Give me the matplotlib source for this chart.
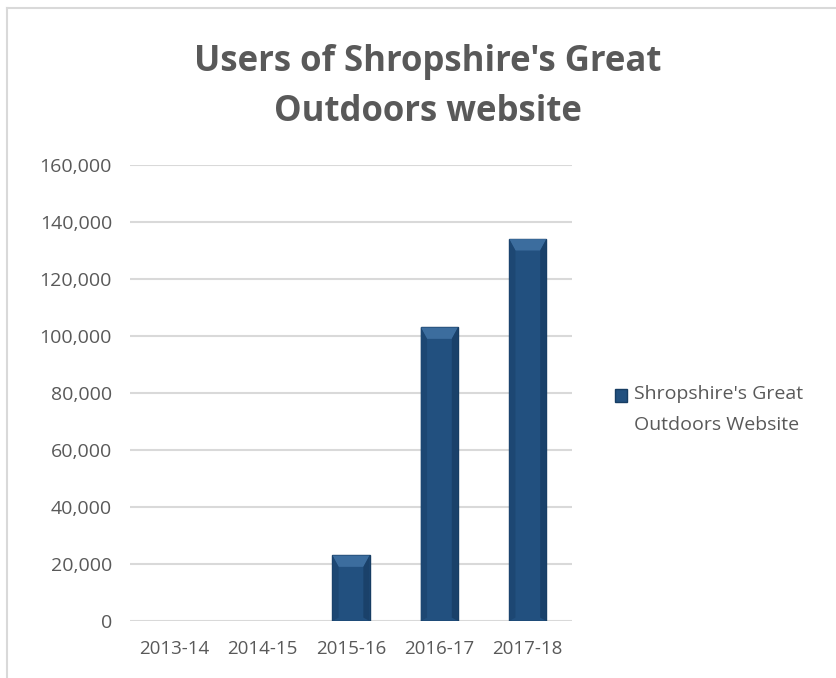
import matplotlib
matplotlib.use("Agg")
import matplotlib.pyplot as plt
from matplotlib.patches import Polygon, Rectangle
from matplotlib.lines import Line2D
from matplotlib.ticker import FuncFormatter

# data
years = ["2013-14", "2014-15", "2015-16", "2016-17", "2017-18"]
users = [0, 0, 23000, 103000, 134000]
series_name = "Shropshire's Great\nOutdoors Website"
title = "Users of Shropshire's Great\nOutdoors website"

plt.rcParams['font.family'] = ['Open Sans', 'DejaVu Sans']
grey = "#595959"
bar_col = "#22507f"

W, H = 836, 678
fig = plt.figure(figsize=(W / 100, H / 100), dpi=100)
ax = fig.add_axes([130 / W, 57 / H, 442 / W, 456 / H])

x = list(range(len(years)))
bw = 0.42
bars = ax.bar(x, users, width=bw, color=bar_col, edgecolor="#173d63",
              linewidth=1.0, zorder=3)
for b, v in zip(bars, users):
    if v <= 0:
        b.set_linewidth(0)

# simple bevel on top of each bar
bev_y = 4000
bev_x = 0.07
for xi, v in zip(x, users):
    if v <= 0:
        continue
    l, r = xi - bw / 2, xi + bw / 2
    top = Polygon([(l, v), (r, v), (r - bev_x, v - bev_y), (l + bev_x, v - bev_y)],
                  closed=True, facecolor="#3c6d9e", edgecolor="none", zorder=4)
    ax.add_patch(top)
    left = Polygon([(l, v), (l + bev_x, v - bev_y), (l + bev_x, bev_y * 0.3), (l, 0)],
                   closed=True, facecolor="#1d4773", edgecolor="none", zorder=4)
    ax.add_patch(left)
    right = Polygon([(r, v), (r - bev_x, v - bev_y), (r - bev_x, bev_y * 0.3), (r, 0)],
                    closed=True, facecolor="#1a416a", edgecolor="none", zorder=4)
    ax.add_patch(right)

ax.set_ylim(0, 160000)
ax.set_xlim(-0.5, len(years) - 0.5)
ax.set_yticks(range(0, 160001, 20000))
ax.yaxis.set_major_formatter(FuncFormatter(lambda v, p: f"{int(v):,}"))
ax.set_xticks(x)
ax.set_xticklabels(years)
ax.grid(axis="y", color="#d9d9d9", linewidth=1.5, zorder=0)
for s in ax.spines.values():
    s.set_visible(False)
ax.tick_params(length=0, labelsize=14, colors=grey)
ax.tick_params(axis="x", pad=14, labelsize=13.5)
ax.tick_params(axis="y", pad=13)

fig.text(0.512, 1 - 87 / H, title, ha="center", va="center",
         fontsize=25, fontweight="bold", color=grey, linespacing=1.5)

# legend: marker sits beside the first line, like the Excel original
fig.add_artist(Rectangle((615 / W, 1 - 402 / H), 12 / W, 13 / H,
                         transform=fig.transFigure, facecolor=bar_col,
                         edgecolor="#173d63", linewidth=1))
line1, line2 = series_name.split("\n")
fig.text(634 / W, 1 - 394 / H, line1, ha="left", va="center",
         fontsize=14, color=grey)
fig.text(634 / W, 1 - 425 / H, line2, ha="left", va="center",
         fontsize=14, color=grey)

# chart border (top and left visible)
fig.add_artist(Line2D([7 / W, 1], [1 - 8 / H, 1 - 8 / H],
                      transform=fig.transFigure, color="#d9d9d9", linewidth=1.5))
fig.add_artist(Line2D([7 / W, 7 / W], [0, 1 - 8 / H],
                      transform=fig.transFigure, color="#d9d9d9", linewidth=1.5))

fig.savefig("out.png", dpi=100, facecolor="white")
